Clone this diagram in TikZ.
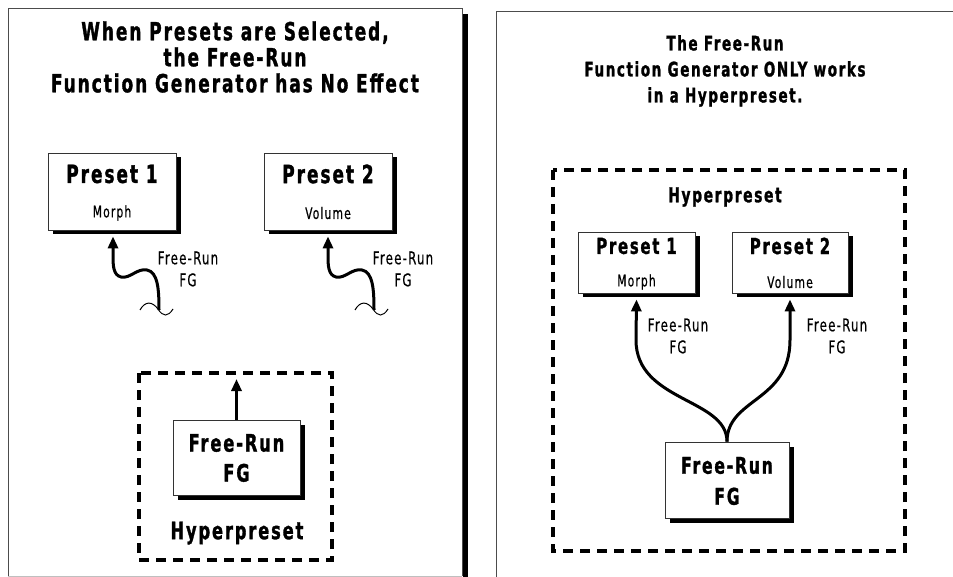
\documentclass[tikz,border=0pt]{standalone}
\usepackage{fontspec}
\newfontfamily\condb[LetterSpace=8, FakeStretch=0.75, FakeBold=1.3]{DejaVu Sans Condensed Bold}
\newfontfamily\cond[LetterSpace=7, FakeStretch=0.75, FakeBold=0.5]{DejaVu Sans Condensed}
\usetikzlibrary{arrows.meta,shadows,calc}
\begin{document}
\begin{tikzpicture}[x=1pt,y=-1pt,
  ttl/.style={font=\condb\fontsize{25}{26}\selectfont, align=center, inner sep=0},
  ttlr/.style={font=\condb\fontsize{20}{26}\selectfont, align=center, inner sep=0},
  fgl/.style={font=\condb\fontsize{24}{30}\selectfont, align=center, inner sep=0},
  fgr/.style={font=\condb\fontsize{23}{31}\selectfont, align=center, inner sep=0},
  pbox/.style={draw=black!80, line width=0.8pt, fill=white, inner sep=0,
    drop shadow={shadow xshift=4.5pt, shadow yshift=-4.5pt, opacity=1, fill=black}},
  big/.style={font=\condb\fontsize{25}{28}\selectfont, inner sep=0},
  bigr/.style={font=\condb\fontsize{22}{26}\selectfont, inner sep=0},
  small/.style={font=\cond\fontsize{16}{18}\selectfont, inner sep=0},
  lbl/.style={font=\cond\fontsize{17.5}{22}\selectfont, align=center, inner sep=0},
  dbox/.style={draw, line width=3.2pt, dash pattern=on 10pt off 7pt},
  arr/.style={line width=3pt, -{Triangle[length=12pt,width=10pt]}},
  frame/.style={draw=black!70, line width=0.8pt}]
\useasboundingbox (0,0) rectangle (953,577);
% ---------- left panel ----------
\draw[frame] (8,576) -- (8,8) -- (462,8) -- (462,576);
\draw[black!25, line width=0.8pt] (8,576) -- (462,576);
\fill (463,14) rectangle (468,577);
\node[ttl] (ltitle) at (235,57) {When Presets are Selected,\\the Free-Run\\Function Generator has No Effect};
\node[pbox, minimum width=128, minimum height=77] (lp1) at (112,191.5) {};
\node[big] (lp1t) at (112,174) {Preset 1};
\node[small] (lp1s) at (112,213) {Morph};
\node[pbox, minimum width=128, minimum height=77] (lp2) at (328,191.5) {};
\node[big] (lp2t) at (328,174) {Preset 2};
\node[small] (lp2s) at (328,213) {Volume};
\coordinate (w1) at (159,310);
\coordinate (w2) at (374,310);
\draw[arr] (w1) .. controls (159,290) and (158,272) .. (147,270)
  .. controls (137,268) and (130,279) .. (121,277)
  .. controls (113,275) and (113,265) .. (113,255) -- ($(lp1.south)+(1,6)$);
\draw[arr] (w2) .. controls (374,290) and (373,272) .. (362,270)
  .. controls (352,268) and (345,279) .. (336,277)
  .. controls (328,275) and (328,265) .. (328,255) -- ($(lp2.south)+(0,6)$);
\draw[line width=1pt] (140,310) .. controls (145,301) and (152,301) .. (158,309)
  .. controls (163,317) and (168,317) .. (173,309);
\draw[line width=1pt] (355,310) .. controls (360,301) and (367,301) .. (373,309)
  .. controls (378,317) and (383,317) .. (388,309);
\node[lbl] (ll1) at (188,269) {Free-Run\\FG};
\node[lbl] (ll2) at (403,269) {Free-Run\\FG};
\draw[dbox] (139,373) rectangle (332,560);
\node[pbox, minimum width=127, minimum height=75] (lfg) at (236.5,457.5) {};
\node[fgl] (lfgt) at (236.5,458) {Free-Run\\FG};
\coordinate (lup) at (236.5,379);
\draw[arr] (lfg.north) -- (lup);
\node[fgl] (lhyp) at (237,533) {Hyperpreset};
% ---------- right panel ----------
\draw[frame] (960,11) -- (496,11) -- (496,590);
\node[ttlr] (rtitle) at (725,71) {The Free-Run\\Function Generator ONLY works\\in a Hyperpreset.};
\draw[dbox] (553,170) rectangle (905,551);
\node[ttlr, font=\condb\fontsize{20.5}{26}\selectfont] (rhyp) at (725,197) {Hyperpreset};
\node[pbox, minimum width=117, minimum height=61] (rp1) at (636.5,262.5) {};
\node[bigr] (rp1t) at (636.5,246) {Preset 1};
\node[small] (rp1s) at (636.5,282) {Morph};
\node[pbox, minimum width=116, minimum height=61] (rp2) at (790,262.5) {};
\node[bigr] (rp2t) at (790,246) {Preset 2};
\node[small] (rp2s) at (790,282) {Volume};
\node[pbox, minimum width=124, minimum height=76] (rfg) at (727,480) {};
\node[fgr] (rfgt) at (727,481) {Free-Run\\FG};
\draw[arr] (rfg.north) .. controls (727,398) and (636,402) .. (636,340) -- ($(rp1.south)+(0,6)$);
\draw[arr] (rfg.north) .. controls (727,398) and (790,402) .. (790,340) -- ($(rp2.south)+(0,6)$);
\node[lbl] (rl1) at (678,336) {Free-Run\\FG};
\node[lbl] (rl2) at (837,336) {Free-Run\\FG};
\end{tikzpicture}
\end{document}
